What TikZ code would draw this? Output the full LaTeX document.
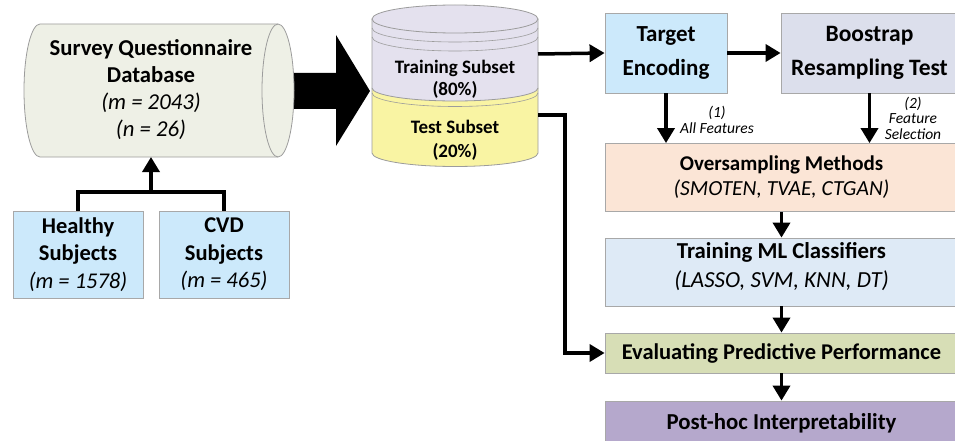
\documentclass[tikz,border=0pt]{standalone}
\usepackage{fontspec}
\setmainfont{Carlito}
\usetikzlibrary{arrows.meta}
\definecolor{dbfill}{HTML}{EEF0E6}
\definecolor{dbline}{HTML}{9C9C9C}
\definecolor{boxline}{HTML}{A8A8A8}
\definecolor{bluefill}{HTML}{CCE9FB}
\definecolor{bootfill}{HTML}{DCDFEC}
\definecolor{trainfill}{HTML}{E4E1EE}
\definecolor{testfill}{HTML}{F9F4A3}
\definecolor{overfill}{HTML}{FBE5D6}
\definecolor{mlfill}{HTML}{DEEAF6}
\definecolor{evalfill}{HTML}{D7DEB6}
\definecolor{postfill}{HTML}{B5A8CC}
\tikzset{
  box/.style={draw=boxline, line width=0.8pt, inner sep=0pt, align=center},
  conn/.style={line width=3.5pt, draw=black},
  arr/.style={conn, -{Triangle[width=17pt,length=15pt]}},
  lbl/.style={align=center, inner sep=0pt, font=\fontsize{15.5}{15.5}\selectfont\itshape}
}
\begin{document}
\begin{tikzpicture}[x=1pt,y=-1pt]
\clip (0,0) rectangle (955,441);
\fill[white] (0,0) rectangle (955,441);

% big arrow
\fill[black] (285,73) -- (336,73) -- (336,35) -- (370,91) -- (336,146) -- (336,109) -- (285,109) -- cycle;

% survey database cylinder
\filldraw[fill=dbfill, draw=dbline, line width=0.8pt] (40,24) -- (278,24)
  arc[start angle=-90,end angle=90,x radius=16,y radius=66.5] -- (40,157)
  arc[start angle=90,end angle=270,x radius=16,y radius=66.5] -- cycle;
\draw[dbline, line width=0.8pt] (278,24) arc[start angle=270,end angle=90,x radius=16,y radius=66.5];
\node[align=center, inner sep=0pt, font=\fontsize{22.7}{27}\selectfont\bfseries] (db) at (151,90)
  {Survey Questionnaire\\Database\\{\mdseries\itshape (m = 2043)}\\{\mdseries\itshape (n = 26)}};
\coordinate (dbbottom) at (151,157);

% subjects
\node[box, fill=bluefill, minimum width=130pt, minimum height=87pt,
      font=\fontsize{22.5}{27.5}\selectfont\bfseries] (healthy) at (78,254.5)
  {Healthy\\Subjects\\{\mdseries\itshape (m = 1578)}};
\node[box, fill=bluefill, minimum width=130pt, minimum height=87pt,
      font=\fontsize{22.5}{27.5}\selectfont\bfseries] (cvd) at (224,254.5)
  {CVD\\Subjects\\{\mdseries\itshape (m = 465)}};
\coordinate (join) at (151,192);
\draw[conn] (healthy.north) |- (join) -| (cvd.north);
\draw[arr] (join) -- (dbbottom);

% split cylinder
\fill[testfill] (372,88) -- (372,153) arc[start angle=180,end angle=0,x radius=83,y radius=13.5] -- (538,88) -- cycle;
\draw[dbline, line width=0.8pt] (372,88) -- (372,153) arc[start angle=180,end angle=0,x radius=83,y radius=13.5] -- (538,88);
\draw[dbline, line width=0.6pt] (372,93) arc[start angle=180,end angle=0,x radius=83,y radius=13.5];
\fill[trainfill] (372,19) -- (372,88) arc[start angle=180,end angle=0,x radius=83,y radius=13] -- (538,19) -- cycle;
\draw[dbline, line width=0.8pt] (372,19) -- (372,88) arc[start angle=180,end angle=0,x radius=83,y radius=13] -- (538,19);
\filldraw[fill=trainfill, draw=dbline, line width=0.8pt] (455,19) ellipse[x radius=83, y radius=14];
\draw[dbline, line width=0.6pt] (372,28) arc[start angle=180,end angle=0,x radius=83,y radius=14];
\draw[dbline, line width=0.6pt] (372,37) arc[start angle=180,end angle=0,x radius=83,y radius=14];
\node[align=center, inner sep=0pt, font=\fontsize{19}{22}\selectfont\bfseries] (trainlbl) at (455,79) {Training Subset\\(80\%)};
\node[align=center, inner sep=0pt, font=\fontsize{19}{24}\selectfont\bfseries] (testlbl) at (455,140) {Test Subset\\(20\%)};
\coordinate (trainout) at (538,54);
\coordinate (testout) at (538,115);

% right column
\node[box, fill=bluefill, minimum width=122pt, minimum height=80pt,
      font=\fontsize{23}{34}\selectfont\bfseries] (target) at (666,53) {Target\\Encoding};
\node[box, fill=bootfill, minimum width=177pt, minimum height=80pt,
      font=\fontsize{23.5}{34}\selectfont\bfseries] (boot) at (869.5,53) {Boostrap\\Resampling Test};
\node[box, fill=overfill, minimum width=353pt, minimum height=68pt,
      font=\fontsize{21}{25}\selectfont\bfseries] (over) at (781.5,177.5)
  {Oversampling Methods\\{\fontsize{21.5}{25}\selectfont\mdseries\itshape (SMOTEN, TVAE, CTGAN)}};
\node[box, fill=mlfill, minimum width=353pt, minimum height=68pt] (ml) at (781.5,272) {};
\node[align=center, inner sep=0pt, font=\fontsize{22.8}{28.5}\selectfont\bfseries] (mltext) at (781.5,266.5)
  {Training ML Classifiers\\{\fontsize{23}{28.5}\selectfont\mdseries\itshape (LASSO, SVM, KNN, DT)}};
\node[box, fill=evalfill, minimum width=353pt, minimum height=40pt,
      font=\fontsize{22.5}{26}\selectfont\bfseries] (eval) at (781.5,353)
  {Evaluating Predictive Performance};
\node[box, fill=postfill, minimum width=353pt, minimum height=44pt,
      font=\fontsize{22.8}{26}\selectfont\bfseries] (post) at (781.5,423)
  {Post-hoc Interpretability};

\node[lbl] (lab1) at (717,120) {(1)\\All Features};
\node[lbl] (lab2) at (913,118) {(2)\\Feature\\Selection};

% connectors
\draw[arr] (trainout) -- (target.west);
\draw[arr] (target.east) -- (boot.west);
\draw[arr] (target.south) -- (target.south |- over.north);
\draw[arr] (boot.south) -- (boot.south |- over.north);
\draw[arr] (over.south) -- (ml.north);
\draw[arr] (ml.south) -- (eval.north);
\draw[arr] (eval.south) -- (post.north);
\draw[arr] (testout) -- ++(27,0) |- (eval.west);
\end{tikzpicture}
\end{document}
